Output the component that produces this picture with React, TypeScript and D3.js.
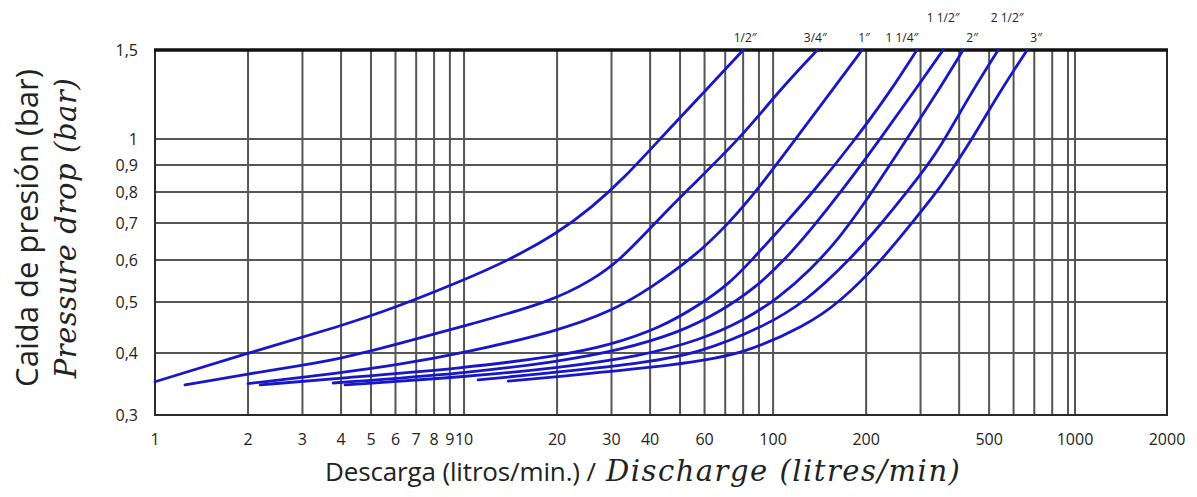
import React, { useEffect, useRef } from "react";
import * as d3 from "d3";

// grid / tick values
const xTickValues = [1, 2, 3, 4, 5, 6, 7, 8, 9, 10, 20, 30, 40, 60, 100, 200, 500, 1000, 2000];
const xGridValues = [2, 3, 4, 5, 6, 7, 8, 9, 10, 20, 30, 40, 50, 60, 70, 80, 90, 100, 200, 300, 400, 500, 600, 700, 800, 900, 1000];
const yTickValues = [0.3, 0.4, 0.5, 0.6, 0.7, 0.8, 0.9, 1, 1.5];
const yTickLabels = ["0,3", "0,4", "0,5", "0,6", "0,7", "0,8", "0,9", "1", "1,5"];

// pipe sizes and their curves [flow l/min, pressure drop bar]
const pipeSizes = ["1/2″", "3/4″", "1″", "1 1/4″", "1 1/2″", "2″", "2 1/2″", "3″"];
const curveHalf = [[1, 0.35], [2, 0.4], [4, 0.45], [6, 0.488], [10, 0.55], [14, 0.6], [20, 0.67], [26, 0.75], [33, 0.85], [45, 1.03], [60, 1.24], [80, 1.5]];
const curveThreeQuarter = [[1.25, 0.345], [2, 0.363], [3, 0.378], [4, 0.39], [6, 0.415], [10, 0.45], [19, 0.5], [26, 0.55], [32, 0.6], [41.5, 0.7], [52, 0.8], [78, 1.0], [105, 1.25], [139, 1.5]];
const curveOne = [[2, 0.347], [4, 0.365], [6, 0.378], [10, 0.4], [20, 0.44], [30, 0.48], [40, 0.53], [56, 0.61], [72, 0.7], [88, 0.8], [124, 1.04], [160, 1.28], [194, 1.5]];
const curveOneQuarter = [[2.19, 0.345], [4, 0.356], [10, 0.373], [20, 0.394], [29.7, 0.414], [43, 0.446], [58, 0.494], [72.5, 0.543], [84.2, 0.595], [109, 0.697], [134, 0.797], [184, 0.996], [239, 1.24], [292, 1.5]];
const curveOneHalf = [[3.77, 0.348], [10, 0.364], [20, 0.384], [31.9, 0.405], [50, 0.438], [67.3, 0.479], [87.4, 0.531], [109, 0.6], [134, 0.686], [165, 0.797], [222, 1.0], [288, 1.25], [355, 1.5]];
const curveTwo = [[4.12, 0.345], [10, 0.358], [20, 0.373], [37.1, 0.394], [58, 0.423], [81.1, 0.462], [105, 0.511], [132, 0.575], [162, 0.652], [198, 0.763], [257, 0.957], [334, 1.216], [412, 1.5]];
const curveTwoHalf = [[11.1, 0.353], [37.1, 0.38], [58, 0.4], [94.1, 0.45], [127, 0.5], [177, 0.6], [225, 0.7], [271, 0.8], [317, 0.9], [360, 1.0], [443, 1.25], [535, 1.5]];
const curveThree = [[13.9, 0.351], [53.8, 0.38], [81.1, 0.4], [127, 0.45], [165, 0.5], [225, 0.6], [281, 0.7], [339, 0.8], [388, 0.9], [440, 1.0], [546, 1.25], [664, 1.5]];
const curves = [curveHalf, curveThreeQuarter, curveOne, curveOneQuarter, curveOneHalf, curveTwo, curveTwoHalf, curveThree];

// label placement relative to curve end
const labelDx = [2, -2, 2, -15, 0, 9, 9, 9];
const labelRow = [0, 0, 0, 0, 1, 0, 1, 0];

export default function App() {
  const ref = useRef<SVGSVGElement>(null);

  useEffect(() => {
    const svg = d3.select(ref.current);
    svg.selectAll("*").remove();

    const left = 155, right = 1167, top = 50, bottom = 415;

    // the scanned grid is a slightly uneven log grid
    const x = d3.scaleLog().domain([1, 900, 1000, 2000]).range([left, 1068, 1075, right]);
    const y = d3.scaleLog()
      .domain([0.3, 0.4, 0.5, 0.6, 0.7, 0.8, 0.9, 1, 1.5])
      .range([bottom, 353, 302, 260, 223, 192, 165, 139, top]);

    svg.append("rect").attr("width", 1197).attr("height", 497).attr("fill", "#fff");

    const grid = svg.append("g").attr("stroke", "#555").attr("stroke-width", 2);
    grid.selectAll("line.v").data(xGridValues).enter().append("line")
      .attr("x1", d => x(d)).attr("x2", d => x(d))
      .attr("y1", top).attr("y2", bottom);
    grid.selectAll("line.h").data(yTickValues.slice(1, -1)).enter().append("line")
      .attr("x1", left).attr("x2", right)
      .attr("y1", d => y(d)).attr("y2", d => y(d));

    // frame
    svg.append("rect")
      .attr("x", left).attr("y", top)
      .attr("width", right - left).attr("height", bottom - top)
      .attr("fill", "none").attr("stroke", "#2a2a2a").attr("stroke-width", 2);
    svg.append("line")
      .attr("x1", left - 1).attr("x2", right + 1)
      .attr("y1", top).attr("y2", top)
      .attr("stroke", "#111").attr("stroke-width", 3.5);

    const line = d3.line<number[]>()
      .x(d => x(d[0]))
      .y(d => y(d[1]))
      .curve(d3.curveBasis);

    svg.append("g").selectAll("path").data(curves).enter().append("path")
      .attr("d", d => line(d))
      .attr("fill", "none")
      .attr("stroke", "#1717c9")
      .attr("stroke-width", 2.8)
      .attr("stroke-linecap", "round");

    svg.append("g").selectAll("text").data(pipeSizes).enter().append("text")
      .attr("x", (d, i) => x(curves[i][curves[i].length - 1][0]) + labelDx[i])
      .attr("y", (d, i) => labelRow[i] ? 22 : 42)
      .attr("text-anchor", "middle")
      .attr("font-family", "Open Sans, sans-serif")
      .attr("font-size", 12)
      .attr("fill", "#222")
      .text(d => d);

    svg.append("g").selectAll("text").data(xTickValues).enter().append("text")
      .attr("x", d => x(d))
      .attr("y", 445)
      .attr("text-anchor", "middle")
      .attr("font-family", "Open Sans, sans-serif")
      .attr("font-size", 16)
      .attr("fill", "#222")
      .text(d => String(d));

    svg.append("g").selectAll("text").data(yTickValues).enter().append("text")
      .attr("x", 138)
      .attr("y", d => y(d) + 6)
      .attr("text-anchor", "end")
      .attr("font-family", "Open Sans, sans-serif")
      .attr("font-size", 16)
      .attr("fill", "#222")
      .text((d, i) => yTickLabels[i]);

    svg.append("text")
      .attr("x", 325).attr("y", 481)
      .attr("font-family", "Open Sans, sans-serif")
      .attr("font-size", 26)
      .attr("textLength", 271)
      .attr("lengthAdjust", "spacing")
      .attr("fill", "#222")
      .text("Descarga (litros/min.) /");
    svg.append("text")
      .attr("x", 606).attr("y", 481)
      .attr("font-family", "DejaVu Serif, serif")
      .attr("font-style", "italic")
      .attr("font-size", 29)
      .attr("letter-spacing", 1.5)
      .attr("fill", "#222")
      .text("Discharge (litres/min)");

    svg.append("text")
      .attr("transform", "translate(38,228) rotate(-90)")
      .attr("text-anchor", "middle")
      .attr("font-family", "Open Sans, sans-serif")
      .attr("font-size", 31)
      .attr("fill", "#222")
      .text("Caida de presión (bar)");
    svg.append("text")
      .attr("transform", "translate(76,228) rotate(-90)")
      .attr("text-anchor", "middle")
      .attr("font-family", "DejaVu Serif, serif")
      .attr("font-style", "italic")
      .attr("font-size", 29)
      .attr("letter-spacing", 0.6)
      .attr("fill", "#222")
      .text("Pressure drop (bar)");
  }, []);

  return (
    <div style={{ position: "absolute", left: 0, top: 0 }}>
      <svg ref={ref} width={1197} height={497} style={{ display: "block" }}></svg>
    </div>
  );
}
